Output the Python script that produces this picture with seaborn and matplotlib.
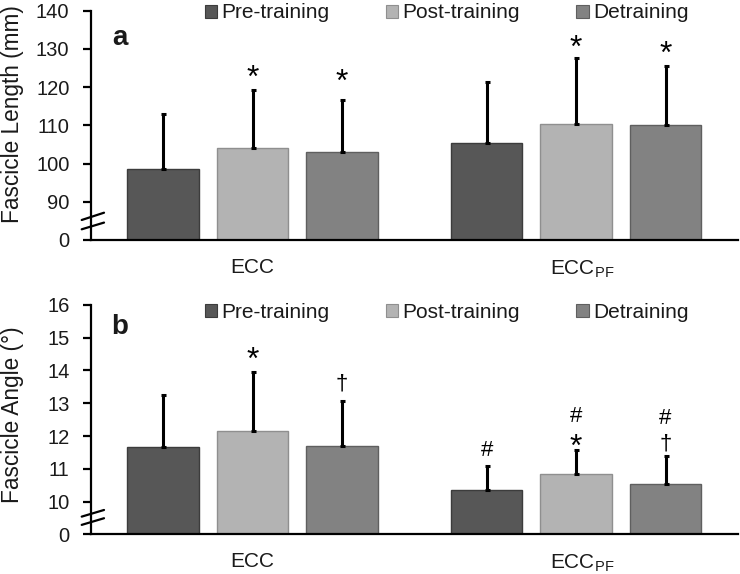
import matplotlib
matplotlib.use("Agg")
import matplotlib.pyplot as plt
import matplotlib.transforms as mtransforms
import seaborn as sns
import pandas as pd
import numpy as np
from matplotlib.patches import Patch

# ---------------- data ----------------
groups = ["ECC", "ECC$_\\mathregular{PF}$"]
conditions = ["Pre-training", "Post-training", "Detraining"]

# Fascicle length (mm): mean per group, order = conditions
length_ecc = [98.6, 104.1, 103.0]
length_pf = [105.4, 110.4, 110.0]
length_sd_ecc = [14.4, 15.2, 13.5]
length_sd_pf = [15.9, 17.2, 15.6]
length_marks_ecc = ["", "*", "*"]
length_marks_pf = ["", "*", "*"]

# Fascicle angle (deg)
angle_ecc = [11.65, 12.16, 11.68]
angle_pf = [10.35, 10.85, 10.55]
angle_sd_ecc = [1.60, 1.79, 1.40]
angle_sd_pf = [0.72, 0.71, 0.85]
angle_marks_ecc = ["", "*", "†"]
angle_marks_pf = ["#", "*", "†"]
angle_hash_pf = ["", "#", "#"]

length_ticks = [80, 90, 100, 110, 120, 130, 140]
length_ticklabels = ["0", "90", "100", "110", "120", "130", "140"]
angle_ticks = [9, 10, 11, 12, 13, 14, 15, 16]
angle_ticklabels = ["0", "10", "11", "12", "13", "14", "15", "16"]

colors = ["#575757", "#b3b3b3", "#828282"]
edges = ["#3c3c3c", "#8f8f8f", "#5f5f5f"]

# ---------------- style ----------------
sns.set_style("white")
plt.rcParams["font.family"] = ["Liberation Sans", "DejaVu Sans"]
plt.rcParams["mathtext.fontset"] = "custom"
plt.rcParams["mathtext.rm"] = "Liberation Sans"
TXT = "#1a1a1a"

fig = plt.figure(figsize=(7.4, 5.74), dpi=100)
left, width, h = 0.123, 0.874, 0.3995
ax_a = fig.add_axes([left, 0.5819, width, h])
ax_b = fig.add_axes([left, 0.0692, width, h])


def make_df(ecc, pf):
    rows = []
    for g, vals in zip(groups, [ecc, pf]):
        for c, v in zip(conditions, vals):
            rows.append({"group": g, "condition": c, "value": v})
    return pd.DataFrame(rows)


def draw(ax, ecc, pf, sd_ecc, sd_pf, ylim, ticks, ticklabels, ylabel, panel,
         marks, mark_off, upper_marks=None, upper_off=None, brk=None):
    df = make_df(ecc, pf)
    sns.barplot(data=df, x="group", y="value", hue="condition",
                hue_order=conditions, palette=colors, width=0.83, gap=0.2,
                errorbar=None, legend=False, ax=ax, linewidth=1.0)
    bar_conts = list(ax.containers)
    for cont, ec in zip(bar_conts, edges):
        for p in cont:
            p.set_edgecolor(ec)
    ax.set_ylim(*ylim)
    ax.set_xlim(-0.5, 1.5)
    ax.set_yticks(ticks)
    ax.set_yticklabels(ticklabels, fontsize=14.5, color=TXT)
    ax.tick_params(axis="y", direction="out", length=6, width=1.6,
                   color="black", pad=9.5, left=True)
    ax.tick_params(axis="x", length=0, pad=13, labelsize=15, labelcolor=TXT)
    # shift the subscripted label so that "ECC" sits centred on the group
    lab = ax.get_xticklabels()[1]
    lab.set_transform(lab.get_transform() +
                      mtransforms.ScaledTranslation(0.06, 0, fig.dpi_scale_trans))
    ax.set_xlabel("")
    ax.set_ylabel(ylabel, fontsize=16.3, color=TXT)
    ax.yaxis.set_label_coords(-0.1035, brk["ylab"])
    for s in ["top", "right"]:
        ax.spines[s].set_visible(False)
    for s in ["left", "bottom"]:
        ax.spines[s].set_color("black")
        ax.spines[s].set_linewidth(1.6)

    # error bars (upper only)
    means = [ecc, pf]
    sds = [sd_ecc, sd_pf]
    for ci, cont in enumerate(bar_conts):
        for gi, p in enumerate(cont):
            x = p.get_x() + p.get_width() / 2
            m = means[gi][ci]
            s = sds[gi][ci]
            ax.errorbar([x], [m], yerr=[[0], [s]], fmt="none", ecolor="black",
                        elinewidth=2.2, capsize=1.8, capthick=2.2, zorder=3)
            mk = marks[gi][ci]
            if mk:
                fs = 23 if mk == "*" else 16
                ax.annotate(mk, (x, m + s), xytext=(0, mark_off[gi][ci]),
                            textcoords="offset pixels", ha="center",
                            va="center", fontsize=fs, color="black")
            if upper_marks is not None:
                um = upper_marks[gi][ci]
                if um:
                    ax.annotate(um, (x, m + s), xytext=(0, upper_off[gi][ci]),
                                textcoords="offset pixels", ha="center",
                                va="center", fontsize=16, color="black")

    # panel letter
    ax.text(0.044, brk["letter"], panel, transform=ax.transAxes, fontsize=20,
            fontweight="bold", ha="center", va="center", color=TXT)

    # legend
    handles = [Patch(facecolor=c, edgecolor=e, linewidth=0.8)
               for c, e in zip(colors, edges)]
    ax.legend(handles, conditions, loc="center", ncol=3, frameon=False,
              bbox_to_anchor=(0.55, brk["leg"]), fontsize=15,
              handlelength=0.6, handleheight=0.6, handletextpad=0.2,
              columnspacing=2.7, borderaxespad=0, labelcolor=TXT)

    # axis break marks
    for (y0, y1) in brk["lines"]:
        ax.plot([-0.0144, 0.0201], [y0, y1], transform=ax.transAxes,
                color="black", lw=1.6, clip_on=False, zorder=5)


draw(ax_a, length_ecc, length_pf, length_sd_ecc, length_sd_pf, (80, 140),
     length_ticks, length_ticklabels, "Fascicle Length (mm)", "a",
     [length_marks_ecc, length_marks_pf], [[0, 11, 18], [0, 9, 11]],
     brk={"leg": 0.99, "letter": 0.883, "ylab": 0.547,
          "lines": [(0.0872, 0.119), (0.0466, 0.0759)]})

draw(ax_b, angle_ecc, angle_pf, angle_sd_ecc, angle_sd_pf, (9, 16),
     angle_ticks, angle_ticklabels, "Fascicle Angle (°)", "b",
     [angle_marks_ecc, angle_marks_pf], [[0, 11, 17], [16, 3, 12]],
     upper_marks=[["", "", ""], angle_hash_pf], upper_off=[[0, 0, 0], [0, 34, 37]],
     brk={"leg": 0.968, "letter": 0.905, "ylab": 0.52,
          "lines": [(0.077, 0.106), (0.041, 0.070)]})

fig.savefig("out.png", dpi=100)
